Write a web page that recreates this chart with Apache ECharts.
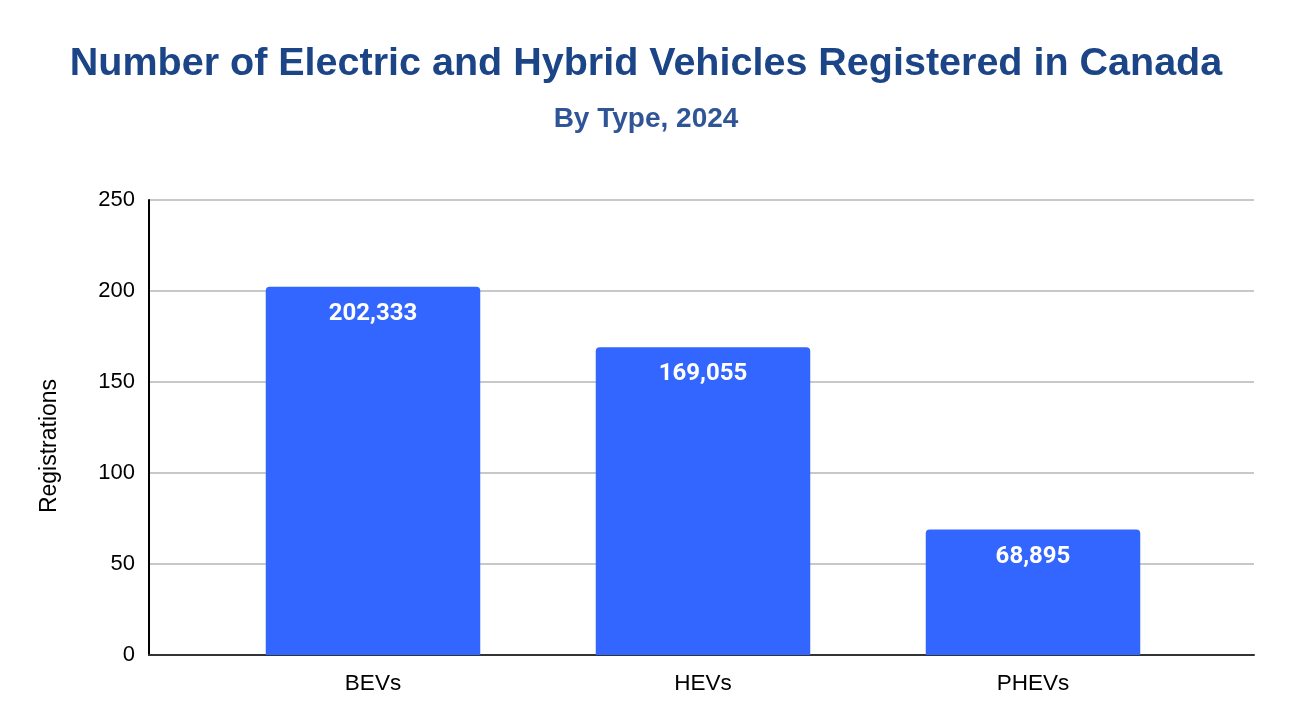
<!DOCTYPE html>
<html lang="en">
<head>
<meta charset="UTF-8">
<title>EV registrations Canada</title>
<script src="https://cdn.jsdelivr.net/npm/echarts@6/dist/echarts.min.js"></script>
<style>
html, body { margin: 0; padding: 0; background: #fff; }
#chart { width: 1292px; height: 728px; }
</style>
</head>
<body>
<div id="chart"></div>
<script>
var types = ['BEVs', 'HEVs', 'PHEVs'];
var registrations = [202333, 169055, 68895];   // actual counts
var yTicks = [0, 50, 100, 150, 200, 250];       // axis shown in thousands

var chart = echarts.init(document.getElementById('chart'));

// grid 0 = full frame (y axis, gridlines, baseline), grid 1 = bars (inset like the original)
var frame = { left: 149, right: 38, top: 200, bottom: 73 };
var bars = { left: 208, right: 94, top: 200, bottom: 73 };

chart.setOption({
    backgroundColor: '#ffffff',
    animation: false,
    title: [{
        text: 'Number of Electric and Hybrid Vehicles Registered in Canada',
        left: 'center',
        top: 39,
        textStyle: { color: '#1c4587', fontSize: 39.5, fontWeight: 'bold', fontFamily: 'Liberation Sans' }
    }, {
        text: 'By Type, 2024',
        left: 'center',
        top: 100,
        textStyle: { color: '#2f5597', fontSize: 28, fontWeight: 'bold', fontFamily: 'Liberation Sans' }
    }],
    graphic: [{
        type: 'text',
        x: 50,
        y: 446,
        rotation: Math.PI / 2,
        style: {
            text: 'Registrations',
            fill: '#000',
            fontSize: 23,
            fontFamily: 'Liberation Sans',
            align: 'center',
            verticalAlign: 'middle'
        }
    }],
    grid: [frame, bars],
    xAxis: [{
        gridIndex: 0,
        type: 'value',
        min: 0,
        max: 1,
        axisLine: { show: true, lineStyle: { color: '#333', width: 2 } },
        axisTick: { show: false },
        axisLabel: { show: false },
        splitLine: { show: false }
    }, {
        gridIndex: 1,
        type: 'category',
        data: types,
        axisLine: { show: false },
        axisTick: { show: false },
        axisLabel: { color: '#000', fontSize: 22.5, fontFamily: 'Liberation Sans', margin: 17 }
    }],
    yAxis: [{
        gridIndex: 0,
        type: 'value',
        min: yTicks[0],
        max: yTicks[yTicks.length - 1],
        interval: 50,
        axisLine: { show: true, lineStyle: { color: '#000', width: 2 } },
        axisTick: { show: false },
        axisLabel: { color: '#000', fontSize: 22, fontFamily: 'Liberation Sans', margin: 14 },
        splitLine: { lineStyle: { color: '#c8c8c8', width: 2 } }
    }, {
        gridIndex: 1,
        type: 'value',
        min: yTicks[0],
        max: yTicks[yTicks.length - 1],
        interval: 50,
        show: false
    }],
    series: [{
        type: 'bar',
        xAxisIndex: 1,
        yAxisIndex: 1,
        data: registrations.map(function (v) { return v / 1000; }),
        barWidth: '65%',
        itemStyle: { color: '#3366ff', borderRadius: [4, 4, 0, 0] },
        label: {
            show: true,
            position: 'insideTop',
            distance: 15,
            color: '#ffffff',
            fontSize: 24,
            fontWeight: 'bold',
            fontFamily: 'Roboto',
            formatter: function (p) {
                return registrations[p.dataIndex].toLocaleString('en-US');
            }
        }
    }]
});
</script>
</body>
</html>
